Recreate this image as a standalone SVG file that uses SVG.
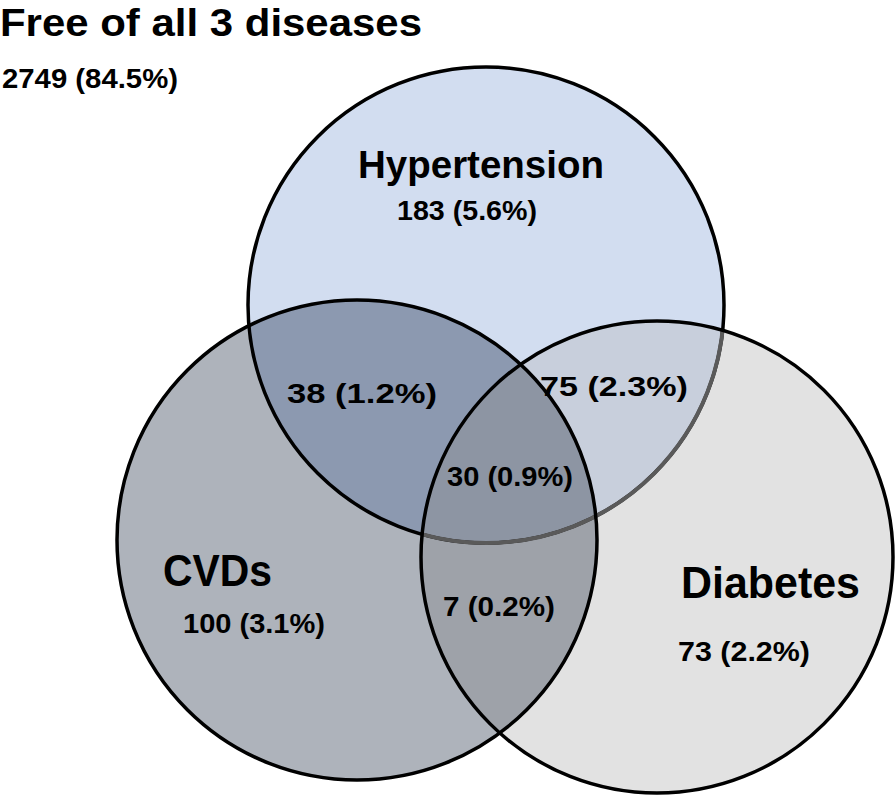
<svg xmlns="http://www.w3.org/2000/svg" width="896" height="796" viewBox="0 0 896 796">
<style>
text{font-family:"Liberation Sans",Arial,sans-serif;font-weight:bold;fill:#000}
.n{font-size:28px}
.edge{fill:none;stroke:#000;stroke-width:3.5}
</style>
<defs>
<clipPath id="cH"><circle cx="486" cy="305" r="238"/></clipPath>
<clipPath id="cC"><circle cx="357" cy="540" r="240"/></clipPath>
<clipPath id="cD"><circle cx="657" cy="557" r="236"/></clipPath>
</defs>
<rect width="896" height="796" fill="#fff"/>
<g id="fills">
<circle cx="486" cy="305" r="238" fill="#D2DDF0"/>
<circle cx="657" cy="557" r="236" fill="#E2E2E2"/>
<circle cx="357" cy="540" r="240" fill="#AEB3BB"/>
<circle cx="486" cy="305" r="238" fill="#C8CFDC" clip-path="url(#cD)"/>
<circle cx="486" cy="305" r="238" fill="#8C99B0" clip-path="url(#cC)"/>
<circle cx="357" cy="540" r="240" fill="#9EA2A9" clip-path="url(#cD)"/>
<g clip-path="url(#cD)"><circle cx="486" cy="305" r="238" fill="#8D95A3" clip-path="url(#cC)"/></g>
</g>
<g id="hypertension">
<circle class="edge" cx="486" cy="305" r="238"/>
<circle cx="486" cy="305" r="238" fill="none" stroke="#5a5a5a" stroke-width="4" clip-path="url(#cD)"/>
<text x="358" y="178" font-size="38" textLength="246" lengthAdjust="spacingAndGlyphs">Hypertension</text>
<text class="n" x="397" y="220" textLength="140" lengthAdjust="spacingAndGlyphs">183 (5.6%)</text>
</g>
<g id="cvds">
<circle class="edge" cx="357" cy="540" r="240"/>
<text x="163" y="586" font-size="44" textLength="109" lengthAdjust="spacingAndGlyphs">CVDs</text>
<text class="n" x="183" y="633" textLength="142" lengthAdjust="spacingAndGlyphs">100 (3.1%)</text>
</g>
<g id="diabetes">
<circle class="edge" cx="657" cy="557" r="236"/>
<text x="681" y="598" font-size="44" textLength="179" lengthAdjust="spacingAndGlyphs">Diabetes</text>
<text class="n" x="678" y="661" textLength="132" lengthAdjust="spacingAndGlyphs">73 (2.2%)</text>
</g>
<g id="overlaps">
<text class="n" x="287" y="403" textLength="150" lengthAdjust="spacingAndGlyphs">38 (1.2%)</text>
<text class="n" x="540" y="396" textLength="148" lengthAdjust="spacingAndGlyphs">75 (2.3%)</text>
<text class="n" x="447" y="486" textLength="126" lengthAdjust="spacingAndGlyphs">30 (0.9%)</text>
<text class="n" x="443" y="616" textLength="112" lengthAdjust="spacingAndGlyphs">7 (0.2%)</text>
</g>
<g id="free">
<text x="0" y="36" font-size="38" textLength="422" lengthAdjust="spacingAndGlyphs">Free of all 3 diseases</text>
<text class="n" x="2" y="88" textLength="176" lengthAdjust="spacingAndGlyphs">2749 (84.5%)</text>
</g>
<g id="connectors"></g>
</svg>
